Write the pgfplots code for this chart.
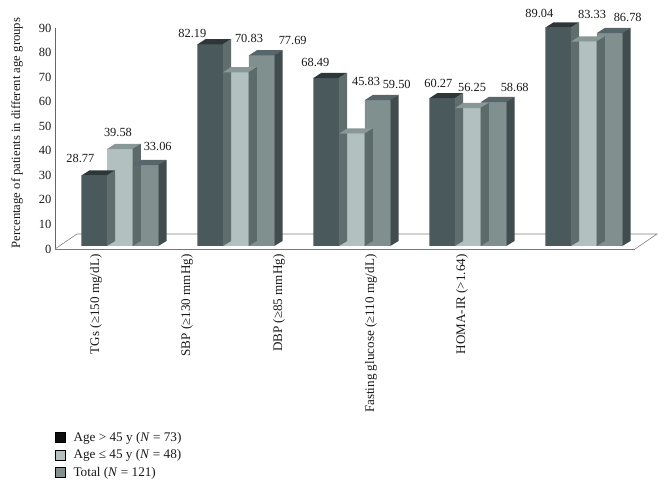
\documentclass[border=0pt]{standalone}
\usepackage{fontspec}
\setmainfont{Liberation Serif}
\usepackage{pgfplots}
\pgfplotsset{compat=1.18}
\usepackage{pgfplotstable}

\definecolor{dF}{HTML}{4A5A5C}
\definecolor{dT}{HTML}{2C3838}
\definecolor{dS}{HTML}{5F6D6D}
\definecolor{lF}{HTML}{B2C0BF}
\definecolor{lT}{HTML}{889897}
\definecolor{lS}{HTML}{5C6A6A}
\definecolor{tF}{HTML}{7F908F}
\definecolor{tT}{HTML}{56666A}
\definecolor{tS}{HTML}{404C4D}

\newcommand\defbarmark[4]{%
 \pgfdeclareplotmark{#1}{%
  \pgfsetfillcolor{#3}%
  \pgfpathmoveto{\pgfpoint{#2-12.85bp}{2.8bp}}%
  \pgfpathlineto{\pgfpoint{#2-4.85bp}{8bp}}%
  \pgfpathlineto{\pgfpoint{#2+20.85bp}{8bp}}%
  \pgfpathlineto{\pgfpoint{#2+12.85bp}{2.8bp}}%
  \pgfpathclose\pgfusepath{fill}%
  \pgfsetfillcolor{#4}%
  \pgfpathmoveto{\pgfpoint{#2+12.6bp}{3bp}}%
  \pgfpathlineto{\pgfpoint{#2+20.85bp}{8bp}}%
  \pgfpathlineto{\pgfpoint{#2+20.85bp}{8bp-\barv*2.4556bp}}%
  \pgfpathlineto{\pgfpoint{#2+12.6bp}{3bp-\barv*2.4556bp}}%
  \pgfpathclose\pgfusepath{fill}%
 }}
\defbarmark{dM}{-18.7bp}{dT}{dS}
\defbarmark{lM}{7bp}{lT}{lS}
\defbarmark{tM}{32.7bp}{tT}{tS}

% ox, oy: label offset (bp) from the top-front centre of each bar
\pgfplotstableread{
x v ox oy
0 28.77 -14 17
1 82.19 -18 11
2 68.49 -11 15
3 60.27 -4 14.5
4 89.04 -19 14
}\dark
\pgfplotstableread{
x v ox oy
0 39.58 -2 16
1 70.83 13 34
2 45.83 14 52
3 56.25 4 20
4 83.33 8 27
}\light
\pgfplotstableread{
x v ox oy
0 33.06 12 18
1 77.69 31 15
2 59.50 19 15
3 58.68 21 14.5
4 86.78 18 15
}\total

\pgfplotsset{
 mybars/.style 2 args={ybar, bar width=25.7bp, bar shift=#1bp, fill=#2, draw=none, yshift=3bp, forget plot,
  nodes near coords={\pgfmathprintnumber[fixed,fixed zerofill,precision=2]{\pgfplotspointmeta}},
  visualization depends on={\thisrow{ox}\as\ox},
  visualization depends on={\thisrow{oy}\as\oy},
  every node near coord/.append style={anchor=center, inner sep=0pt, xshift=\ox bp+#1bp, yshift=\oy bp,
    font=\fontsize{12.4bp}{14bp}\selectfont, text=black!90}},
 mymarks/.style={only marks, forget plot, visualization depends on={\thisrow{v}\as\barv}},
}

\begin{document}
\begin{tikzpicture}
\path[use as bounding box] (0,0) rectangle (664bp,486bp);
\begin{axis}[
 at={(55bp,237bp)}, anchor=south west,
 scale only axis, width=580bp, height=221bp,
 xmin=-0.5, xmax=4.5, ymin=0, ymax=90,
 clip=false,
 axis lines*=left,
 axis line style={black!60, line width=0.7bp},
 major tick length=0pt,
 /pgf/number format/assume math mode=true,
 ytick={0,10,...,90},
 yticklabel style={font=\fontsize{12.5bp}{14bp}\selectfont, text=black!90},
 xtick={-0.147,0.638,1.431,2.224,3.009},
 xticklabels={TGs (≥150 mg/dL), SBP (≥130 mmHg), DBP (≥85 mmHg), Fasting glucose (≥110 mg/dL), HOMA-IR (>1.64)},
 xticklabel style={rotate=90, anchor=east, font=\fontsize{13.1bp}{15bp}\selectfont, text=black!90},
 xticklabel shift=2bp,
 ylabel={Percentage of patients in different age groups},
 ylabel style={at={(axis description cs:-0.0655,0.525)}, anchor=center, font=\fontsize{12.7bp}{14bp}\selectfont, text=black!90},
 legend style={at={(axis description cs:0,-0.819)}, anchor=north west, draw=none, fill=none,
   inner sep=0pt, font=\fontsize{13.2bp}{15bp}\selectfont, text=black!90, row sep=2.7bp, column sep=6bp},
 legend cell align=left,
 legend image code/.code={\fill[#1] (0bp,-5bp) rectangle (10bp,5bp);},
]
\draw[black!50, line width=0.6bp, fill=white] (axis cs:-0.5,0) -- ++(22bp,15bp) -- ([shift={(22bp,15bp)}]axis cs:4.5,0) -- (axis cs:4.5,0);

\addplot[mybars={-18.7}{dF}] table[x=x,y=v]{\dark};
\addplot[mymarks, mark=dM] table[x=x,y=v]{\dark};
\addplot[mybars={7}{lF}] table[x=x,y=v]{\light};
\addplot[mymarks, mark=lM] table[x=x,y=v]{\light};
\addplot[mybars={32.7}{tF}] table[x=x,y=v]{\total};
\addplot[mymarks, mark=tM] table[x=x,y=v]{\total};

\addlegendimage{fill=black!95}
\addlegendentry{Age > 45 y (\textit{N} = 73)}
\addlegendimage{fill=lF}
\addlegendentry{Age ≤ 45 y (\textit{N} = 48)}
\addlegendimage{fill=tF}
\addlegendentry{Total (\textit{N} = 121)}
\end{axis}
\end{tikzpicture}
\end{document}
